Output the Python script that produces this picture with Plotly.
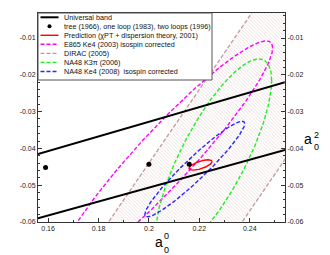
import numpy as np
import plotly.graph_objects as go

# ---------------- data ----------------
band_a0 = [0.156, 0.254]
band_upper_a2 = [-0.0415, -0.0220]
band_lower_a2 = [-0.0590, -0.0404]

chpt_a0 = [0.159, 0.200, 0.216]
chpt_a2 = [-0.0452, -0.0443, -0.0443]

# ellipses: prediction, E865, NA48 K3pi, NA48 Ke4
ell_a0 = [0.2205, 0.2063, 0.2257, 0.2182]
ell_a2 = [-0.0445, -0.0423, -0.0423, -0.0456]
ell_sig_a0 = [0.0046, 0.0428, 0.0230, 0.0198]
ell_sig_a2 = [0.0014, 0.0315, 0.0266, 0.0130]
ell_rho = [0.65, 0.94, 0.78, 0.95]

dirac_diff = [0.244, 0.297]  # a0 - a2 band limits

x_tickvals = [0.16, 0.18, 0.20, 0.22, 0.24]
x_ticktext = ["0.16", "0.18", "0.2", "0.22", "0.24"]
y_tickvals = [-0.01, -0.02, -0.03, -0.04, -0.05, -0.06]
y_ticktext = ["-0.01", "-0.02", "-0.03", "-0.04", "-0.05", "-0.06"]

legend_labels = [
    "Universal band",
    "tree (1966), one loop (1983), two loops (1996)",
    "Prediction (\u03c7PT + dispersion theory, 2001)",
    "E865 Ke4 (2003) isospin corrected",
    "DIRAC (2005)",
    "NA48 K3\u03c0 (2006)",
    "NA48 Ke4 (2008)  isospin corrected",
]

# ---------------- styles ----------------
X_RANGE = [0.156, 0.254]
Y_RANGE = [-0.06, -0.0032]
FONT = "Liberation Sans, Arial, sans-serif"
C_RED = "#ff0000"
C_MAG = "#ff00ff"
C_GRN = "#22ee22"
C_BLU = "#2a2aff"
C_BRN = "#c49a9a"
DASH = "4px,2px"

ell_colors = [C_RED, C_MAG, C_GRN, C_BLU]
ell_dash = ["solid", DASH, DASH, DASH]

fig = go.Figure()

# DIRAC band
lo, hi = dirac_diff
ys = [Y_RANGE[0] - 0.02, Y_RANGE[1] + 0.02]
fig.add_trace(go.Scatter(
    x=[ys[0] + lo, ys[1] + lo, ys[1] + hi, ys[0] + hi, ys[0] + lo],
    y=[ys[0], ys[1], ys[1], ys[0], ys[0]],
    mode="lines", line=dict(width=0), fill="toself",
    fillcolor="rgba(0,0,0,0)",
    fillpattern=dict(shape="\\", fgcolor="rgba(200,150,150,0.75)",
                     bgcolor="rgba(255,255,255,0)", size=2.5, solidity=0.3),
    hoverinfo="skip", showlegend=False))
for d in dirac_diff:
    fig.add_trace(go.Scatter(x=[ys[0] + d, ys[1] + d], y=ys, mode="lines",
                             line=dict(color=C_BRN, width=1.3, dash=DASH),
                             hoverinfo="skip", showlegend=False))

# ellipses
t = np.linspace(0, 2 * np.pi, 361)
for i in [1, 2, 3, 0]:
    ex = ell_a0[i] + ell_sig_a0[i] * np.cos(t)
    ey = ell_a2[i] + ell_sig_a2[i] * (ell_rho[i] * np.cos(t) + np.sqrt(1 - ell_rho[i] ** 2) * np.sin(t))
    fig.add_trace(go.Scatter(x=ex, y=ey, mode="lines",
                             line=dict(color=ell_colors[i], width=1.4, dash=ell_dash[i]),
                             hoverinfo="skip", showlegend=False))

# universal band
for yy in (band_upper_a2, band_lower_a2):
    fig.add_trace(go.Scatter(x=band_a0, y=yy, mode="lines",
                             line=dict(color="black", width=2),
                             hoverinfo="skip", showlegend=False))

# chpt points
fig.add_trace(go.Scatter(x=chpt_a0, y=chpt_a2, mode="markers",
                         marker=dict(color="black", size=5),
                         showlegend=False, cliponaxis=False))

# dummy on y2
fig.add_trace(go.Scatter(x=[chpt_a0[0]], y=[chpt_a2[0]], yaxis="y2", mode="markers",
                         marker=dict(opacity=0), hoverinfo="skip", showlegend=False))

# ---------------- layout ----------------
# page body has an 8px margin: screen = figure + 8
OFF = 8
W, H = 330 - OFF, 255 - OFF
L, R, T, B = 38, 285, 13, 222  # plot area in screen pixels
def px(xp):
    return (xp - L) / (R - L)
def py(yp):
    return (B - yp) / (B - T)

tickfont = dict(family=FONT, size=7, color="#222")
axcommon = dict(showgrid=False, zeroline=False, showline=True, linecolor="#333",
                linewidth=1, ticks="inside", ticklen=4, tickcolor="#333", tickfont=tickfont,
                automargin=False)
fig.update_layout(
    width=W, height=H,
    margin=dict(l=L - OFF, r=330 - R, t=T - OFF, b=255 - B, autoexpand=False),
    paper_bgcolor="white", plot_bgcolor="white",
    showlegend=False,
    xaxis=dict(range=X_RANGE, tickmode="array", tickvals=x_tickvals, ticktext=x_ticktext,
               mirror=True,
               minor=dict(tickmode="linear", tick0=0.15, dtick=0.01, ticks="inside", ticklen=2,
                          tickcolor="#333"),
               **axcommon),
    yaxis=dict(range=Y_RANGE, tickmode="array", tickvals=y_tickvals, ticktext=y_ticktext,
               minor=dict(tickmode="linear", tick0=-0.06, dtick=0.002, ticks="inside", ticklen=2,
                          tickcolor="#333"),
               **axcommon),
    yaxis2=dict(range=Y_RANGE, overlaying="y", side="right", matches="y",
                tickmode="array", tickvals=y_tickvals, ticktext=y_ticktext,
                minor=dict(tickmode="linear", tick0=-0.06, dtick=0.002, ticks="inside", ticklen=2,
                           tickcolor="#333"),
                **axcommon),
)

# legend box
shapes = []
annots = []
shapes.append(dict(type="rect", xref="paper", yref="paper", x0=px(38), x1=px(212),
                   y0=py(80), y1=py(13), fillcolor="white",
                   line=dict(color="#555", width=1), layer="above"))
row_y = [17.3, 26.3, 35.3, 44.3, 53.4, 62.4, 71.5]
samp = [("black", "solid", 2), None, (C_RED, "solid", 1.4), (C_MAG, DASH, 1.4),
        (C_BRN, DASH, 1.4), (C_GRN, DASH, 1.4), (C_BLU, DASH, 1.4)]
for k, lab in enumerate(legend_labels):
    yy = py(row_y[k])
    if samp[k] is None:
        shapes.append(dict(type="circle", xref="paper", yref="paper",
                           x0=px(47.5), x1=px(51.5), y0=py(row_y[k] + 2), y1=py(row_y[k] - 2),
                           fillcolor="black", line=dict(color="black", width=0), layer="above"))
    else:
        c, d, w = samp[k]
        shapes.append(dict(type="line", xref="paper", yref="paper", x0=px(40.5), x1=px(58.5),
                           y0=yy, y1=yy, line=dict(color=c, dash=d, width=w), layer="above"))
    annots.append(dict(xref="paper", yref="paper", x=px(62), y=yy, text=lab, showarrow=False,
                       xanchor="left", yanchor="middle", font=dict(family=FONT, size=7.2, color="#111")))

# axis titles
tf = dict(family=FONT, size=14, color="black")
sf = dict(family=FONT, size=9, color="black")
annots += [
    dict(xref="paper", yref="paper", x=px(158.7), y=py(242), text="a", showarrow=False, font=tf,
         xanchor="center", yanchor="middle"),
    dict(xref="paper", yref="paper", x=px(166), y=py(236), text="0", showarrow=False, font=sf,
         xanchor="center", yanchor="middle"),
    dict(xref="paper", yref="paper", x=px(166), y=py(249.5), text="0", showarrow=False, font=sf,
         xanchor="center", yanchor="middle"),
    dict(xref="paper", yref="paper", x=px(308), y=py(139), text="a", showarrow=False, font=tf,
         xanchor="center", yanchor="middle"),
    dict(xref="paper", yref="paper", x=px(316.5), y=py(135), text="2", showarrow=False, font=sf,
         xanchor="center", yanchor="middle"),
    dict(xref="paper", yref="paper", x=px(316.5), y=py(147), text="0", showarrow=False, font=sf,
         xanchor="center", yanchor="middle"),
]
fig.update_layout(shapes=shapes, annotations=annots)

fig.write_html("out.html")
